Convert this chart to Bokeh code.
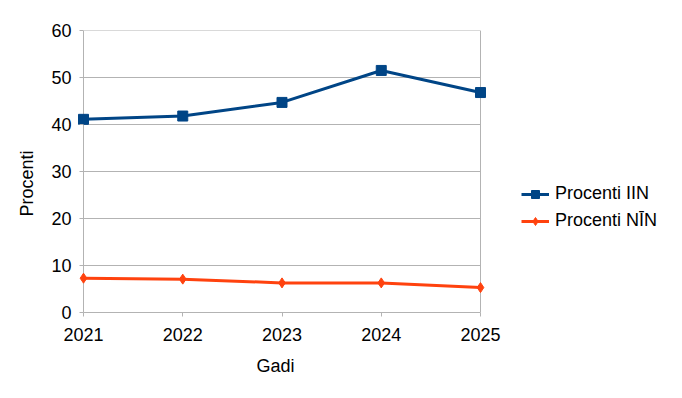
from bokeh.plotting import figure
from bokeh.models import Range1d, FixedTicker, Legend, LegendItem, Title
from bokeh.embed import file_html
from bokeh.resources import INLINE

years = [2021, 2022, 2023, 2024, 2025]
iin = [41.1, 41.8, 44.7, 51.5, 46.8]
nin = [7.3, 7.1, 6.3, 6.3, 5.3]
y_ticks = [0, 10, 20, 30, 40, 50, 60]
series_names = ["Procenti IIN", "Procenti NĪN"]
x_title = "Gadi"
y_title = "Procenti"

FONT = "Liberation Sans"
GRID = "#b3b3b3"
BLUE = "#004586"
ORANGE = "#ff420e"

W, H = 674, 390
LEFT, TOP, BOTTOM = 77, 30, 78
AXIS_X = 83                      # pixel position of the first year
PLOT_W = 397                     # pixel width of the first..last year span
PX = PLOT_W / (years[-1] - years[0])
x_start = years[0] - (AXIS_X - LEFT) / PX
x_end = years[0] + (W - AXIS_X) / PX

p = figure(width=W, height=H, output_backend="svg", toolbar_location=None,
           x_range=Range1d(x_start, x_end), y_range=Range1d(y_ticks[0], y_ticks[-1]),
           min_border_left=LEFT, min_border_right=0, min_border_top=TOP, min_border_bottom=BOTTOM)

p.outline_line_color = None
p.xgrid.grid_line_color = None
p.ygrid.grid_line_color = None

for ax in (p.xaxis[0], p.yaxis[0]):
    ax.axis_line_color = GRID
    ax.major_tick_line_color = GRID
    ax.minor_tick_line_color = None
    ax.major_tick_in = 0
    ax.major_tick_out = 4
    ax.major_label_text_font = FONT
    ax.major_label_text_font_size = "18px"
    ax.major_label_text_color = "#000000"

p.xaxis[0].ticker = FixedTicker(ticks=years)
p.xaxis[0].bounds = (years[0], years[-1])
p.xaxis[0].major_label_standoff = 11

yax = p.yaxis[0]
yax.ticker = FixedTicker(ticks=y_ticks)
yax.axis_line_color = None
yax.major_tick_out = -(AXIS_X - LEFT - 4)
yax.major_tick_in = AXIS_X - LEFT
yax.major_label_standoff = 6

# titles placed as in the reference
p.add_layout(Title(text=x_title, align="left", offset=256 - LEFT,
                   text_font=FONT, text_font_size="18px", text_font_style="normal",
                   text_color="#000000", standoff=21), "below")
p.add_layout(Title(text=y_title, align="left", offset=96,
                   text_font=FONT, text_font_size="18px", text_font_style="normal",
                   text_color="#000000", standoff=23), "left")

# horizontal grid lines between first and last year, plus left/right borders
p.segment(x0=years[0], x1=years[-1], y0=y_ticks[1:], y1=y_ticks[1:],
          line_color=GRID, line_width=1)
p.segment(x0=[years[0], years[-1]], x1=[years[0], years[-1]],
          y0=y_ticks[0], y1=y_ticks[-1], line_color=GRID, line_width=1)

l1 = p.line(years, iin, line_color=BLUE, line_width=3)
m1 = p.scatter(years, iin, marker="square", size=10, fill_color=BLUE, line_color=BLUE)
l2 = p.line(years, nin, line_color=ORANGE, line_width=3)
m2 = p.scatter(years, nin, marker="diamond", size=10, fill_color=ORANGE, line_color=ORANGE)

legend = Legend(items=[LegendItem(label=series_names[0], renderers=[l1, m1]),
                       LegendItem(label=series_names[1], renderers=[l2, m2])],
                location=(521 - LEFT, 81))
legend.label_text_font = FONT
legend.label_text_font_size = "18px"
legend.label_text_color = "#000000"
legend.glyph_width = 28
legend.glyph_height = 20
legend.label_height = 20
legend.label_standoff = 6
legend.spacing = 6
legend.padding = 0
legend.margin = 0
legend.border_line_color = None
legend.background_fill_alpha = 0
p.add_layout(legend, "center")

open("out.html", "w").write(file_html(p, INLINE))
